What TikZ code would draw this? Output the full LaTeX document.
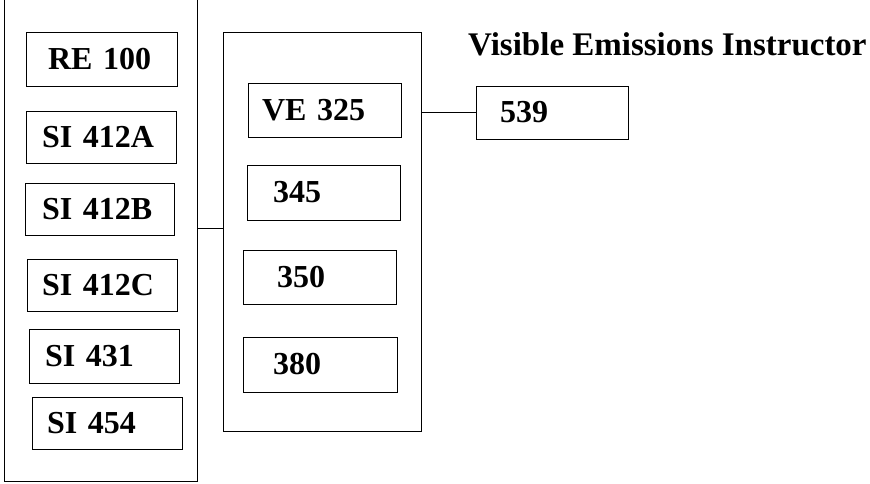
\documentclass[tikz,border=0pt]{standalone}
\usepackage{fontspec}
\setmainfont{Liberation Serif}
\begin{document}
\begin{tikzpicture}[x=1pt,y=1pt,
  ln/.style={line width=0.8pt},
  box/.style={draw, ln, rectangle, inner ysep=0pt, align=left, outer sep=0pt,
    font=\bfseries\fontsize{32}{36}\selectfont},
  group/.style={draw, ln, rectangle, inner sep=0pt, outer sep=0pt},
  title/.style={font=\bfseries\fontsize{33}{36}\selectfont, inner sep=0pt}]
\useasboundingbox (0,0) rectangle (870,-483);
\clip (0,0) rectangle (870,-483);
% groups
\node[group, minimum width=193, minimum height=491] (lo) at (100.5,-235.5) {};
\node[group, minimum width=198, minimum height=399] (mid) at (322,-231.5) {};
% left column
\node[box, inner xsep=22, text width=107, minimum height=54] (re100) at (101.5,-59) {RE 100};
\node[box, inner xsep=16, text width=118, minimum height=52] (si412a) at (101,-137) {SI 412A};
\node[box, inner xsep=17, text width=115, minimum height=52] (si412b) at (99.5,-209) {SI 412B};
\node[box, inner xsep=15, text width=120, minimum height=52] (si412c) at (102,-285) {SI 412C};
\node[box, inner xsep=16, text width=118, minimum height=54] (si431) at (104,-356) {SI 431};
\node[box, inner xsep=15, text width=120, minimum height=52] (si454) at (107,-423) {SI 454};
% middle column
\node[box, inner xsep=14, text width=125, minimum height=54] (ve325) at (324.5,-110) {VE 325};
\node[box, inner xsep=26, text width=101, minimum height=55] (n345) at (323.5,-192.5) {345};
\node[box, inner xsep=34, text width=85, minimum height=54] (n350) at (319.5,-277) {350};
\node[box, inner xsep=30, text width=94, minimum height=55] (n380) at (320,-364.5) {380};
% right
\node[box, inner xsep=24, text width=104, minimum height=53] (n539) at (552,-112.5) {539};
\node[title, anchor=base west] (ttl) at (468,-55) {Visible Emissions Instructor};
% connectors
\draw[ln] (mid.west |- 0,-228) -- (lo.east |- 0,-228);
\draw[ln] (n539.west) -- (n539.west -| mid.east);
\end{tikzpicture}
\end{document}
